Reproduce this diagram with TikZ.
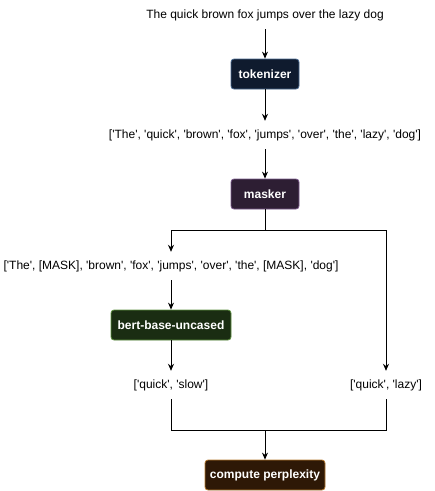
\documentclass[tikz,border=0pt]{standalone}
\usepackage{fontspec}
\setmainfont{Liberation Sans}[Ligatures = TeXOff]
\usetikzlibrary{arrows.meta}
\definecolor{tokfill}{HTML}{0F1B2E}
\definecolor{tokline}{HTML}{4A6A90}
\definecolor{maskfill}{HTML}{2D1E33}
\definecolor{maskline}{HTML}{7B5A8C}
\definecolor{bertfill}{HTML}{1A2D12}
\definecolor{bertline}{HTML}{5E9140}
\definecolor{pplfill}{HTML}{2E1806}
\definecolor{pplline}{HTML}{B5792E}

\begin{document}
\begin{tikzpicture}[
            x = 1pt, y = -1pt,
            every node/.style = {font = \fontsize{12}{14}\selectfont},
            txt/.style = {inner sep = 0pt, minimum height = 28pt},
            stage/.style = {draw, line width = 0.8pt, rounded corners = 3pt, minimum height = 30pt,
                            inner sep = 0pt, text = white, font = \fontsize{12}{14}\selectfont\bfseries},
            flow/.style = {-{Stealth[length = 7pt, width = 6pt]}, line width = 0.8pt}
            ]
            \useasboundingbox (0,0) rectangle (435,491);
            \node[txt] (sentence) at (265,15) {The quick brown fox jumps over the lazy dog};
            \node[stage, fill = tokfill, draw = tokline, minimum width = 68pt] (tokenizer) at (265,74) {tokenizer};
            \node[txt] (tokens) at (265,135) {['The', 'quick', 'brown', 'fox', 'jumps', 'over', 'the', 'lazy', 'dog']};
            \node[stage, fill = maskfill, draw = maskline, minimum width = 68pt] (masker) at (265,194) {masker};
            \node[txt] (masked) at (171,266) {['The', [MASK], 'brown', 'fox', 'jumps', 'over', 'the', [MASK], 'dog']};
            \node[stage, fill = bertfill, draw = bertline, minimum width = 120pt] (bert) at (171,325) {bert-base-uncased};
            \node[txt] (predicted) at (171,385) {['quick', 'slow']};
            \node[txt] (original) at (386,385) {['quick', 'lazy']};
            \node[stage, fill = pplfill, draw = pplline, minimum width = 120pt] (perplexity) at (265,475) {compute perplexity};
            \coordinate (split) at (265,230);
            \coordinate (join) at (265,430);

            \draw[flow] (sentence) -- (tokenizer);
            \draw[flow] (tokenizer) -- (tokens);
            \draw[flow] (tokens) -- (masker);
            \draw[flow] (masker.south) -- (split) -| (masked.north);
            \draw[flow] (split) -| (original.north);
            \draw[flow] (masked) -- (bert);
            \draw[flow] (bert) -- (predicted);
            \draw[line width = 0.8pt] (predicted.south) |- (join);
            \draw[line width = 0.8pt] (original.south) |- (join);
            \draw[flow] (join) -- (perplexity);
          \end{tikzpicture}
\end{document}
